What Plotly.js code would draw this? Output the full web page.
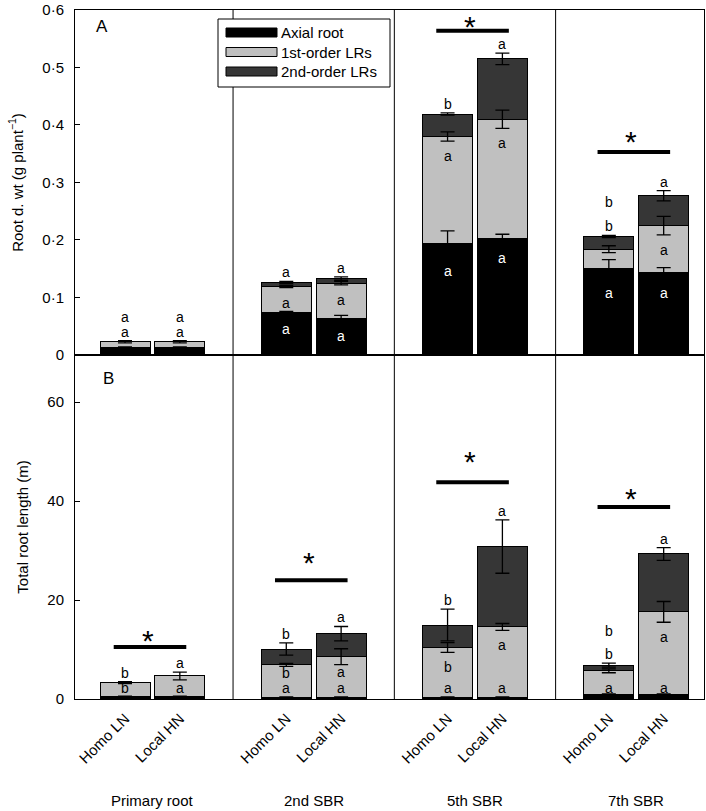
<!DOCTYPE html>
<html>
<head>
<meta charset="utf-8">
<script src="https://cdn.plot.ly/plotly-3.0.1.min.js"></script>
<style>html,body{margin:0;padding:0;background:#fff;}#chart{width:706px;height:811px;}</style>
</head>
<body>
<div id="chart"></div>
<script>
// ---------- data ----------
const groups = ['Primary root', '2nd SBR', '5th SBR', '7th SBR'];
const treatments = ['Homo LN', 'Local HN'];
const seriesNames = ['Axial root', '1st-order LRs', '2nd-order LRs'];
// bar order: Primary-Homo, Primary-Local, 2nd-Homo, 2nd-Local, 5th-Homo, 5th-Local, 7th-Homo, 7th-Local

// Panel A: root dry weight (g plant-1)
const dwAxial     = [0.013, 0.013, 0.074, 0.064, 0.194, 0.202, 0.150, 0.143];
const dwAxialErr  = [0.001, 0.001, 0.002, 0.005, 0.022, 0.008, 0.016, 0.009];
const dwFirst     = [0.010, 0.010, 0.045, 0.061, 0.186, 0.208, 0.034, 0.082];
const dwFirstErr  = [0.002, 0.002, 0.002, 0.003, 0.008, 0.016, 0.006, 0.016];
const dwSecond    = [0, 0, 0.007, 0.008, 0.039, 0.105, 0.022, 0.052];
const dwSecondErr = [0, 0, 0.002, 0.003, 0.002, 0.010, 0.002, 0.009];

// Panel B: total root length (m)
const lenAxial     = [0.5, 0.5, 0.3, 0.3, 0.3, 0.3, 0.95, 0.95];
const lenAxialErr  = [0.1, 0.1, 0.1, 0.1, 0.1, 0.1, 0.1, 0.1];
const lenFirst     = [2.8, 4.15, 6.6, 8.25, 10.1, 14.25, 4.75, 16.65];
const lenFirstErr  = [0.2, 0.78, 0.3, 1.6, 1.0, 0.7, 0.4, 2.1];
const lenSecond    = [0, 0, 3.2, 4.65, 4.55, 16.25, 1.15, 11.7];
const lenSecondErr = [0, 0, 1.25, 1.45, 3.2, 5.4, 0.4, 1.3];

// significance letters (axial, 1st-order, 2nd-order)
const dwLetters = {
  axial:  ['a', 'a', 'a', 'a', 'a', 'a', 'a', 'a'],
  first:  ['a', 'a', 'a', 'a', 'a', 'a', 'b', 'a'],
  second: ['', '', 'a', 'a', 'b', 'a', 'b', 'a']
};
const lenLetters = {
  axial:  ['b', 'a', 'a', 'a', 'a', 'a', 'a', 'a'],
  first:  ['b', 'a', 'b', 'a', 'b', 'a', 'b', 'a'],
  second: ['', '', 'b', 'a', 'b', 'a', 'b', 'a']
};
// groups with significant treatment difference (*)
const dwSignificant  = [false, false, true, true];
const lenSignificant = [true, true, true, true];

// ---------- layout helpers (placement, not data) ----------
const dwPlacement = {
  axial:  [['up',1], ['up',1], ['in'], ['in'], ['in'], ['in'], ['in'], ['in']],
  first:  [['up',0], ['up',0], ['in'], ['in'], ['in'], ['in'], ['up',0], ['in']],
  second: [null, null, ['up',0], ['up',0], ['up',0], ['up',0], ['up',1.65], ['up',0]]
};
const lenPlacement = {
  axial:  [['base'], ['base'], ['base'], ['base'], ['base'], ['base'], ['base'], ['base']],
  first:  [['up',0], ['up',0], ['in',-7], ['in',-7], ['in'], ['in'], ['up',0], ['in']],
  second: [null, null, ['up',0], ['up',0], ['up',0], ['up',0], ['up',1.55], ['up',0]]
};
const dwSigLine  = [null, null, 0.564, 0.353];
const dwSigStar  = [null, null, 0.586, 0.386];
const lenSigLine = [10.5, 24.0, 43.8, 38.8];
const lenSigStar = [13.5, 29.1, 49.5, 42.2];

const colors = ['#000000', '#c0c0c0', '#363636'];
const FONT = 'Liberation Sans, Arial, Helvetica, sans-serif';
const barOffset = 0.17, barWidth = 0.31;

const barX = [], tickText = [];
groups.forEach((g, gi) => treatments.forEach((t, ti) => {
  barX.push(gi + (ti === 0 ? -barOffset : barOffset));
  tickText.push(t);
}));

const traces = [];
const annotations = [];
const shapes = [];

function buildPanel(vals, errs, letters, placement, xa, ya, sigSig, sigLine, sigStar) {
  const keys = ['axial', 'first', 'second'];
  vals.forEach((v, si) => {
    traces.push({
      type: 'bar', x: barX, y: v, width: barWidth, xaxis: xa, yaxis: ya,
      name: seriesNames[si], showlegend: false,
      marker: { color: colors[si], line: { color: '#000', width: 1 } },
      hoverinfo: 'y'
    });
  });
  const cum = vals.map((v, si) => v.map((_, i) => vals.slice(0, si + 1).reduce((s, a) => s + a[i], 0)));
  vals.forEach((v, si) => {
    const xs = [], ys = [], es = [];
    v.forEach((val, i) => { if (val > 0) { xs.push(barX[i]); ys.push(cum[si][i]); es.push(errs[si][i]); } });
    traces.push({
      type: 'scatter', mode: 'markers', x: xs, y: ys, xaxis: xa, yaxis: ya, showlegend: false,
      marker: { size: 1, color: 'rgba(0,0,0,0)' }, hoverinfo: 'skip',
      error_y: { type: 'data', array: es, visible: true, color: '#000', thickness: 1.3, width: 7 }
    });
  });
  for (let i = 0; i < barX.length; i++) {
    let topSi = 0;
    vals.forEach((v, si) => { if (v[i] > 0) topSi = si; });
    const topVal = cum[topSi][i] + errs[topSi][i];
    keys.forEach((k, si) => {
      const p = placement[k][i];
      const txt = letters[k][i];
      if (!p || !txt) return;
      let y, yshift, color = '#000';
      if (p[0] === 'up') { y = topVal; yshift = 9 + 15 * p[1]; }
      else if (p[0] === 'in') { y = cum[si][i] - errs[si][i]; yshift = (p[1] !== undefined ? p[1] : -15); if (si === 0) color = '#fff'; }
      else { y = 0; yshift = 11; }
      annotations.push({ xref: xa, yref: ya, x: barX[i], y: y, yshift: yshift, text: txt,
        showarrow: false, xanchor: 'center', yanchor: 'middle', borderpad: 0,
        font: { family: FONT, size: 14, color: color } });
    });
  }
  groups.forEach((g, gi) => {
    if (!sigSig[gi]) return;
    shapes.push({ type: 'line', xref: xa, yref: ya, x0: gi - 0.24, x1: gi + 0.21,
      y0: sigLine[gi], y1: sigLine[gi], line: { color: '#000', width: 4 } });
    annotations.push({ xref: xa, yref: ya, x: gi - 0.03, y: sigStar[gi], yshift: -8, text: '*',
      showarrow: false, xanchor: 'center', yanchor: 'middle', font: { family: FONT, size: 30, color: '#000' } });
  });
}

buildPanel([dwAxial, dwFirst, dwSecond], [dwAxialErr, dwFirstErr, dwSecondErr], dwLetters, dwPlacement,
  'x2', 'y2', dwSignificant, dwSigLine, dwSigStar);
buildPanel([lenAxial, lenFirst, lenSecond], [lenAxialErr, lenFirstErr, lenSecondErr], lenLetters, lenPlacement,
  'x', 'y', lenSignificant, lenSigLine, lenSigStar);

[0.5, 1.5, 2.5].forEach(xv => shapes.push({ type: 'line', xref: 'x', yref: 'paper', x0: xv, x1: xv, y0: 0, y1: 1,
  line: { color: '#000', width: 1 } }));

groups.forEach((g, gi) => annotations.push({ xref: 'x', yref: 'paper', x: gi, y: -0.1466, text: g, showarrow: false,
  xanchor: 'center', yanchor: 'middle', font: { family: FONT, size: 15, color: '#000' } }));

annotations.push({ xref: 'paper', yref: 'paper', x: (102 - 75) / 629, y: (699 - 27) / 689, text: 'A', showarrow: false,
  xanchor: 'center', yanchor: 'middle', font: { family: FONT, size: 17, color: '#000' } });
annotations.push({ xref: 'paper', yref: 'paper', x: (108 - 75) / 629, y: (699 - 379) / 689, text: 'B', showarrow: false,
  xanchor: 'center', yanchor: 'middle', font: { family: FONT, size: 17, color: '#000' } });

const px = v => (v - 75) / 629, py = v => (699 - v) / 689;
shapes.push({ type: 'rect', xref: 'paper', yref: 'paper', x0: px(218), x1: px(390), y0: py(87), y1: py(19),
  fillcolor: '#fff', line: { color: '#000', width: 1 } });
seriesNames.forEach((n, si) => {
  const cy = 32.5 + si * 19.5;
  shapes.push({ type: 'rect', xref: 'paper', yref: 'paper', x0: px(226), x1: px(277), y0: py(cy + 4.5), y1: py(cy - 4.5),
    fillcolor: colors[si], line: { color: '#000', width: 1 } });
  annotations.push({ xref: 'paper', yref: 'paper', x: px(279), y: py(cy), text: n, showarrow: false,
    xanchor: 'left', yanchor: 'middle', font: { family: FONT, size: 15, color: '#000' } });
});

const dwTicks = [0, 0.1, 0.2, 0.3, 0.4, 0.5, 0.6];
const dwTickText = ['0', '0·1', '0·2', '0·3', '0·4', '0·5', '0·6'];
const lenTicks = [0, 20, 40, 60];

const axisCommon = { showline: true, linecolor: '#000', linewidth: 1, mirror: true, showgrid: false, zeroline: false };

const layout = {
  width: 706, height: 811,
  margin: { l: 75, r: 2, t: 10, b: 112 },
  paper_bgcolor: '#fff', plot_bgcolor: '#fff',
  barmode: 'stack', showlegend: false,
  font: { family: FONT, size: 15, color: '#000' },
  xaxis: Object.assign({}, axisCommon, { domain: [0, 1], anchor: 'y', range: [-0.48, 3.42],
    tickmode: 'array', tickvals: barX, ticktext: tickText, tickangle: -45, ticks: '',
    ticklabelstandoff: 4, tickfont: { family: FONT, size: 15 } }),
  xaxis2: Object.assign({}, axisCommon, { domain: [0, 1], anchor: 'y2', matches: 'x', range: [-0.48, 3.42],
    showticklabels: false, ticks: '' }),
  yaxis: Object.assign({}, axisCommon, { domain: [0, 0.4993], anchor: 'x', range: [0, 69.5],
    tickmode: 'array', tickvals: lenTicks, ticks: 'inside', ticklen: 5, tickcolor: '#000',
    ticklabelstandoff: 7, tickfont: { family: FONT, size: 15 },
    title: { text: 'Total root length (m)', font: { family: FONT, size: 15 }, standoff: 15 } }),
  yaxis2: Object.assign({}, axisCommon, { domain: [0.4993, 1], anchor: 'x2', range: [0, 0.6],
    tickmode: 'array', tickvals: dwTicks, ticktext: dwTickText, ticks: 'inside', ticklen: 5, tickcolor: '#000',
    ticklabelstandoff: 7, tickfont: { family: FONT, size: 15 },
    title: { text: 'Root d. wt (g plant<sup>−1</sup>)', font: { family: FONT, size: 15 }, standoff: 15 } }),
  shapes: shapes,
  annotations: annotations
};

Plotly.newPlot('chart', traces, layout, { displayModeBar: false, staticPlot: true });
</script>
</body>
</html>
